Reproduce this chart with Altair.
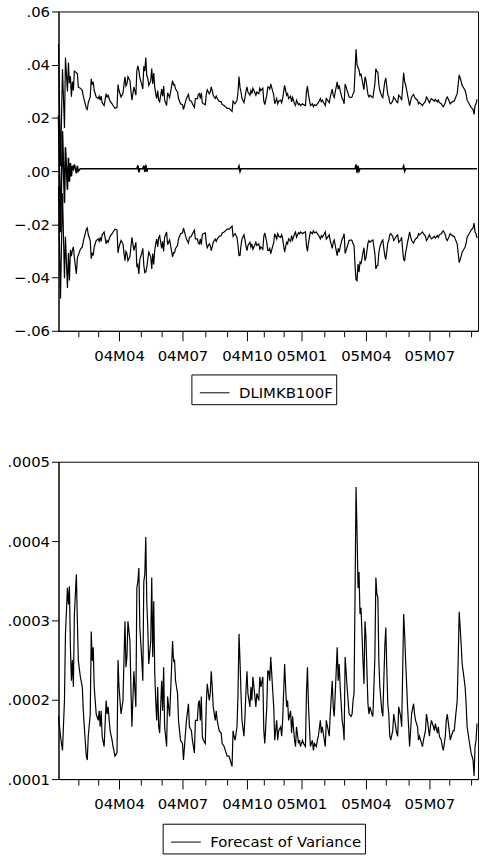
import math
import altair as alt
import pandas as pd

# ---- data (trading-day index, variance in units of 1e-4) ----
day = [0, 2, 4, 6, 7, 9, 10, 11, 12, 13, 14, 15, 16, 18, 19, 20, 22, 24, 25, 26, 28, 29, 30, 32, 33, 34, 35, 36, 38, 40,
       41, 42, 43, 44, 46, 48, 49, 50, 52, 54, 55, 57, 59, 60, 61, 63, 65, 66, 67, 68, 69, 70, 72,
       73, 74, 76, 78, 79, 80, 81, 82, 84, 85, 86, 87, 88, 89, 90, 91, 93, 94, 95, 96, 97, 98, 99, 100, 101, 102,
       104, 105, 106, 107, 109, 110, 112, 113, 115, 116, 117, 118, 120, 121, 123, 125, 126, 128, 129, 131, 132,
       134, 135, 137, 138, 140, 141,
       142, 143, 144, 145, 146, 148, 149, 150, 152, 153, 154, 155, 156, 158, 159, 160, 162, 164, 165, 167, 169,
       170, 172, 174, 175, 176, 177, 178, 180, 181, 182, 183, 184, 185, 187, 188, 189, 190, 191, 193, 194, 195,
       196, 198, 199, 200, 202, 203, 204, 206, 207, 208, 210, 211,
       212, 213, 214, 216, 217, 218, 220, 221, 222, 224, 225, 226, 228, 229, 230, 231, 232, 234, 235, 236, 238,
       239, 240, 242, 243, 244, 246, 247, 249, 250, 251, 252, 253, 254, 256, 257, 258, 260, 261, 262, 264, 265,
       266, 268, 269, 270, 272, 273, 274, 276, 277, 278, 280, 281,
       282, 283, 284, 286, 287, 288, 289, 291, 292, 293, 295, 296, 297, 298, 299, 300, 301, 302, 303, 304, 305,
       306, 307, 308, 309, 310, 311, 312, 313, 314, 316, 317, 318, 319, 320, 321, 322, 323, 324, 326, 327, 328,
       329, 330, 331, 332, 333, 334, 335, 337, 338, 339, 341, 342, 343, 345, 346, 347, 348, 349, 350, 351, 352,
       353, 354, 355, 356, 358, 359, 360, 362, 363, 364, 366, 367, 368, 370, 371, 372, 374, 375, 376, 378, 379,
       380, 382, 383, 384, 386, 387, 388, 390, 391, 392, 394, 395, 396, 398, 399, 400, 402, 403, 404, 405, 406,
       407, 408, 410, 411, 412, 414, 415, 416, 418, 419, 420, 421, 422]

var_e4 = [1.79, 1.54, 1.36, 1.99, 2.83, 3.41, 3.2, 3.43, 2.66, 2.24, 2.5, 2.16, 3.08, 3.58, 2.99, 2.49, 2.29, 2.16,
          1.86, 1.66, 1.29, 1.24, 1.54, 1.82, 2.86, 2.49, 2.66, 2.16, 1.82, 1.74, 1.86, 1.66, 1.86, 1.54, 1.41,
          1.99, 1.82, 1.91, 1.61, 1.49, 1.41, 1.29, 1.33, 2.5, 2.16, 1.82, 1.99, 2.5, 2.99, 2.41, 2.54, 2.99, 2.74,
          2.16, 1.66, 2.36, 1.91, 3.41, 3.49, 3.66, 2.91, 2.5, 2.24, 3.49, 3.58, 4.05, 3.24, 2.91, 2.45, 2.74, 3.54,
          2.54, 3.24, 2.36, 1.99, 1.74, 2.16, 1.66, 1.58, 2.24, 1.86, 2.41, 1.66, 1.41, 2.04, 1.79, 2.08, 2.74,
          2.49, 2.5, 2.24, 2.08, 1.74, 1.49, 1.45, 1.24, 1.58, 1.74, 1.95, 1.66, 1.61, 1.49, 1.33, 1.74, 1.74, 1.95,
          1.99, 1.74, 2.04, 1.54, 1.49, 1.45, 1.95, 2.2, 1.99, 2.08, 2.36, 2.16, 1.91, 1.74, 1.86, 1.74, 1.61, 1.58,
          1.45, 1.41, 1.33, 1.29, 1.29, 1.2, 1.16, 1.61, 1.54, 1.49, 1.66, 2.08, 2.83, 2.49, 2.08, 1.74, 1.54, 1.79,
          2.11, 2.36, 2.08, 1.91, 2.16, 1.99, 2.29, 2.04, 1.91, 2.08, 1.99, 2.29, 2.16, 2.29, 1.61, 1.45, 1.91, 2.36,
          2.36, 2.24, 2.54, 2.11, 1.91, 1.49, 1.74, 1.49, 1.61, 1.66, 1.54, 1.74, 2.45, 2.16, 1.91, 1.99, 1.74, 1.86,
          1.58, 1.79, 1.49, 1.41, 1.66, 1.45, 1.49, 1.41, 1.49, 1.45, 1.41, 2.08, 2.41, 1.95, 1.66, 1.41, 1.49, 1.36,
          1.45, 1.41, 1.49, 1.54, 1.74, 1.58, 1.66, 1.49, 1.41, 1.74, 1.61, 1.54, 1.82, 2.24, 1.91, 1.79, 2.36, 2.66,
          2.24, 2.45, 2.16, 1.74, 1.66, 1.49, 2.54, 2.16, 1.99, 1.82, 1.79, 1.82, 1.99, 2.08, 3.33, 4.68, 4.11, 3.41,
          3.61, 3.08, 3.16, 2.83, 2.49, 2.2, 2.99, 2.79, 2.36, 1.95, 1.82, 1.91, 1.82, 1.79, 2.16, 2.54, 3.54, 3.33,
          3.29, 2.49, 2.16, 1.86, 1.79, 2.24, 2.66, 2.91, 2.41, 1.95, 1.82, 1.54, 1.49, 1.61, 1.82, 1.74, 1.58, 1.54,
          1.91, 1.79, 1.66, 2.33, 3.08, 2.83, 2.49, 2.2, 1.9,
          1.66, 1.41, 1.61, 1.82, 1.95, 1.82, 1.74, 1.66, 1.49, 1.54, 1.45, 1.41, 1.49, 1.61, 1.82, 1.74, 1.54, 1.66,
          1.74, 1.66, 1.61, 1.7, 1.58, 1.66, 1.54, 1.49, 1.41, 1.36, 1.54, 1.74, 1.82, 1.61, 1.49, 1.54, 1.61, 1.61,
          1.74, 1.99, 2.5, 3.11, 2.91, 2.7, 2.45, 2.36, 2.16, 1.95, 1.66, 1.49, 1.41, 1.33, 1.24, 1.04, 1.41, 1.49,
          1.7]

# forecast of the mean: oscillating start, a flat level, and a few visible blips
fc_early = [0.021, -0.023, 0.015, -0.012, 0.009, -0.007, 0.005, -0.004, 0.003, -0.002, 0.002]
fc_level = 0.0009
blob_day = [16, 18, 19, 20, 80, 81, 86, 87, 88, 89, 182, 183, 300, 301, 302, 303, 348, 349]
blob_fc = [0.0025, -0.0008, 0.002, 0.0, 0.0022, -0.0004, 0.002, -0.0003, 0.0024, -0.0002, 0.0019, -0.0001,
           0.0025, -0.0006, 0.002, 0.0, 0.0019, 0.0]

# month ticks (trading-day index of each month start)
month_day = [20, 40, 61, 83, 104, 125, 148, 170, 190, 207, 227, 245, 268, 288, 310, 330, 353, 374, 394, 416]
month_name = ["04M02", "04M03", "04M04", "04M05", "04M06", "04M07", "04M08", "04M09", "04M10", "04M11",
              "04M12", "05M01", "05M02", "05M03", "05M04", "05M05", "05M06", "05M07", "05M08", "05M09"]
major_month = ["04M04", "04M07", "04M10", "05M01", "05M04", "05M07"]

top_ticks = [-0.06, -0.04, -0.02, 0.0, 0.02, 0.04, 0.06]
bot_ticks = [0.0001, 0.0002, 0.0003, 0.0004, 0.0005]

# ---- build table ----
fc = [fc_level] * len(day)
for i, v in enumerate(fc_early):
    fc[i] = v
for d, v in zip(blob_day, blob_fc):
    fc[day.index(d)] = v
variance = [v * 1e-4 for v in var_e4]
upper = [f + 2 * math.sqrt(v) for f, v in zip(fc, variance)]
lower = [f - 2 * math.sqrt(v) for f, v in zip(fc, variance)]
df = pd.DataFrame({"day": day, "variance": variance, "fc": fc, "upper": upper, "lower": lower})

FONT = "DejaVu Sans"
FS = 15
W = 423

major_days = [d for d, n in zip(month_day, month_name) if n in major_month]
label_expr = "''"
for d, n in zip(month_day, month_name):
    if n in major_month:
        label_expr = f"datum.value == {d} ? '{n}' : ({label_expr})"
tick_test = "indexof([" + ",".join(str(d) for d in major_days) + "], datum.value) >= 0"

xaxis = alt.Axis(values=month_day, labelExpr=label_expr, title=None, grid=False,
                 tickSize={"condition": {"test": tick_test, "value": 10}, "value": 6},
                 labelPadding=8, labelOverlap=False, labelFlush=False)
xscale = alt.Scale(domain=[0, W], nice=False, zero=False)

# top panel
top_y = alt.Y("val:Q", scale=alt.Scale(domain=[-0.06, 0.06], nice=False),
              axis=alt.Axis(values=top_ticks, title=None, grid=False,
                            labelExpr="replace(format(datum.value, '.2f'), '0.', '.')"))
bands = alt.Chart(df).transform_fold(["upper", "lower"], as_=["band", "val"]).mark_line(
    color="black", strokeWidth=1.2).encode(
    x=alt.X("day:Q", scale=xscale, axis=xaxis), y=top_y, detail="band:N")
fcline = alt.Chart(df).transform_calculate(val="datum.fc", name="'DLIMKB100F'").mark_line(
    strokeWidth=1.6).encode(
    x=alt.X("day:Q", scale=xscale, axis=xaxis), y=top_y,
    color=alt.Color("name:N", scale=alt.Scale(range=["black"]),
                    legend=alt.Legend(orient="none", legendX=134, legendY=366, title=None)))
top = alt.layer(bands, fcline).properties(width=W, height=322)

# bottom panel
bottom = alt.Chart(df).transform_calculate(name="'Forecast of Variance'").mark_line(
    strokeWidth=1.2).encode(
    x=alt.X("day:Q", scale=xscale, axis=xaxis),
    y=alt.Y("variance:Q", scale=alt.Scale(domain=[0.0001, 0.0005], nice=False, zero=False),
            axis=alt.Axis(values=bot_ticks, title=None, grid=False,
                          labelExpr="replace(format(datum.value, '.4f'), '0.', '.')")),
    color=alt.Color("name:N", scale=alt.Scale(range=["black"]),
                    legend=alt.Legend(orient="none", legendX=105, legendY=365, title=None)),
).properties(width=W, height=320)

chart = alt.vconcat(top, bottom, spacing=49).resolve_scale(color="independent").properties(
    padding={"left": 6, "top": 0, "right": 0, "bottom": 0},
    background="white",
).configure_view(stroke="black", strokeWidth=1).configure_axis(
    domainColor="black", tickColor="black", labelColor="black", labelFont=FONT, labelFontSize=FS,
    domainWidth=1, tickWidth=1,
).configure_axisY(tickSize=7, labelPadding=2).configure_legend(
    strokeColor="black", padding=3, fillColor="white", cornerRadius=0,
    symbolType="stroke", symbolSize=900, symbolStrokeWidth=1, symbolStrokeColor="black",
    symbolOffset=5, labelFont=FONT, labelFontSize=FS, labelColor="black", labelOffset=9,
)

chart.save("out.html", embed_options={"renderer": "svg", "actions": False})
